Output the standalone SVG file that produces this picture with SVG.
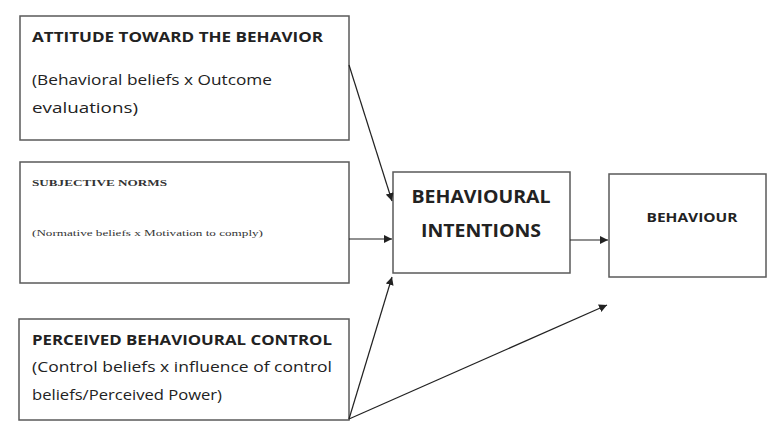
<svg xmlns="http://www.w3.org/2000/svg" width="768" height="423" viewBox="0 0 768 423">
<style>
.box{fill:#fff;stroke:#5a5a5a;stroke-width:1.5}
.t{font-family:"Open Sans","Liberation Sans",sans-serif;fill:#222}
.b{font-weight:bold}
.s{font-family:"Liberation Serif","DejaVu Serif",serif;fill:#333}
.c{stroke:#222;stroke-width:1.2;fill:none;marker-end:url(#ah)}
</style>
<defs>
<marker id="ah" viewBox="0 0 10 10" refX="10" refY="5" markerWidth="8" markerHeight="8" markerUnits="userSpaceOnUse" orient="auto">
<path d="M0,0 L10,5 L0,10 z" fill="#222"/>
</marker>
</defs>
<rect width="768" height="423" fill="#fff"/>
<g id="attitude">
<rect class="box" x="20" y="16" width="329" height="124"/>
<text class="t b" x="32" y="42" font-size="14" textLength="291" lengthAdjust="spacingAndGlyphs">ATTITUDE TOWARD THE BEHAVIOR</text>
<text class="t" x="32" y="85" font-size="14" textLength="240" lengthAdjust="spacingAndGlyphs">(Behavioral beliefs x Outcome</text>
<text class="t" x="32" y="113" font-size="14" textLength="106" lengthAdjust="spacingAndGlyphs">evaluations)</text>
</g>
<g id="subjective-norms">
<rect class="box" x="20" y="162" width="329" height="121"/>
<text class="s b" x="32" y="186" font-size="9" textLength="135" lengthAdjust="spacingAndGlyphs">SUBJECTIVE NORMS</text>
<text class="s" x="32" y="236" font-size="9" textLength="231" lengthAdjust="spacingAndGlyphs">(Normative beliefs x Motivation to comply)</text>
</g>
<g id="perceived-control">
<rect class="box" x="19" y="319" width="330" height="101"/>
<text class="t b" x="32" y="345" font-size="14" textLength="300" lengthAdjust="spacingAndGlyphs">PERCEIVED BEHAVIOURAL CONTROL</text>
<text class="t" x="32" y="372" font-size="14" textLength="300" lengthAdjust="spacingAndGlyphs">(Control beliefs x influence of control</text>
<text class="t" x="32" y="400" font-size="14" textLength="190" lengthAdjust="spacingAndGlyphs">beliefs/Perceived Power)</text>
</g>
<g id="intentions">
<rect class="box" x="393" y="172" width="177" height="101"/>
<text class="t b" x="481" y="203" font-size="18" text-anchor="middle" textLength="139" lengthAdjust="spacingAndGlyphs">BEHAVIOURAL</text>
<text class="t b" x="481" y="237" font-size="18" text-anchor="middle" textLength="120" lengthAdjust="spacingAndGlyphs">INTENTIONS</text>
</g>
<g id="behaviour">
<rect class="box" x="609" y="174" width="157" height="103"/>
<text class="t b" x="692" y="222" font-size="13" text-anchor="middle" textLength="91" lengthAdjust="spacingAndGlyphs">BEHAVIOUR</text>
</g>
<g id="connectors">
<line class="c" x1="349" y1="65" x2="392" y2="201"/>
<line class="c" x1="349" y1="239" x2="392" y2="239"/>
<line class="c" x1="349" y1="419" x2="392" y2="277"/>
<line class="c" x1="349" y1="419" x2="607" y2="305"/>
<line class="c" x1="570" y1="240" x2="608" y2="240"/>
</g>
</svg>
